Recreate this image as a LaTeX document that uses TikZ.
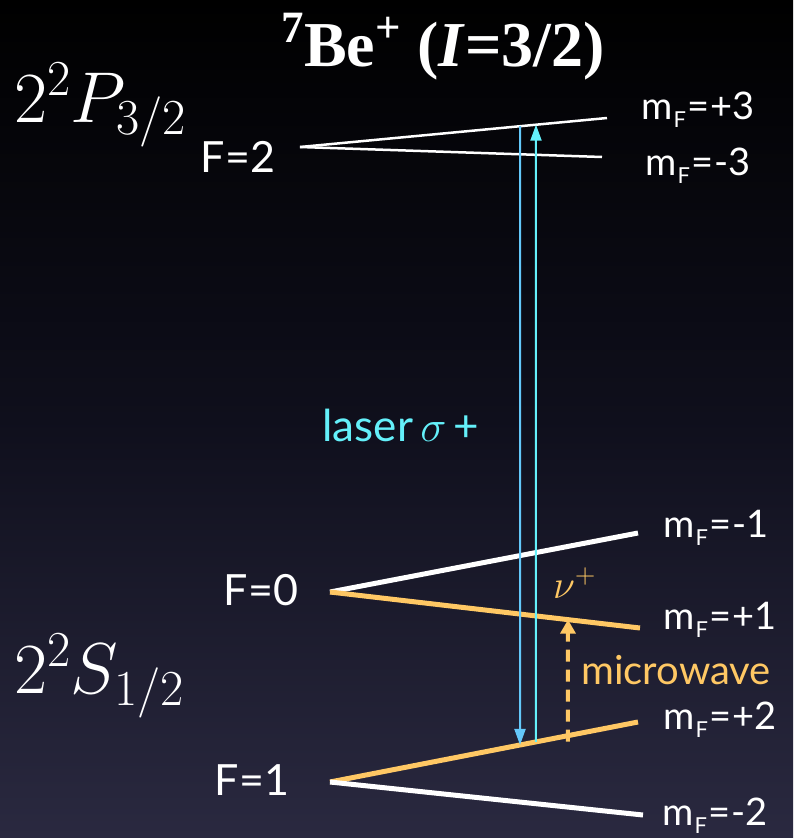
\RequirePackage{fix-cm}
\documentclass[tikz,border=0pt]{standalone}
\usepackage{fontspec}
\setmainfont{Lato}
\newfontfamily\titlefont{Liberation Serif}
\usetikzlibrary{arrows.meta,calc}
\definecolor{orng}{RGB}{255,200,100}
\definecolor{skyb}{RGB}{100,200,250}
\definecolor{cyn}{RGB}{100,240,250}
\definecolor{bgbot}{RGB}{42,41,64}
\definecolor{bgmid}{RGB}{15,15,28}
\newcommand{\mF}[1]{m\kern0.5pt\raisebox{-0.22em}{\fontsize{22}{22}\selectfont F}\kern1pt=\kern1pt#1}
\begin{document}
\begin{tikzpicture}[x=1pt,y=-1pt,
  lbl/.style={text=white,font=\fontsize{38}{40}\selectfont,inner sep=0pt},
  flbl/.style={text=white,font=\fontsize{43}{45}\selectfont,inner sep=0pt},
  statelbl/.style={text=white,font=\fontsize{72}{74}\selectfont,inner sep=0pt},
  thinlev/.style={white,line width=2.5pt},
  thicklev/.style={white,line width=5pt},
  orlev/.style={orng,line width=5pt},
  laserdown/.style={skyb,line width=2pt,-{Triangle[width=11pt,length=16pt]}},
  laserup/.style={cyn,line width=2pt,-{Triangle[width=11pt,length=16pt]}},
  mw/.style={orng,line width=4pt,dash pattern=on 12pt off 8pt,-{Triangle[width=15pt,length=14pt]}}
]
\shade[top color=black,bottom color=bgbot,middle color=bgmid] (0,0) rectangle (793,838);
\useasboundingbox (0,0) rectangle (793,838);

% title
\node[text=white,inner sep=0pt,anchor=base,font=\titlefont\bfseries\fontsize{64}{66}\selectfont] (title) at (443,66)
  {\textsuperscript{7}Be\textsuperscript{+} (\textit{I}=3/2)};

% state labels
\node[statelbl,anchor=base west] (P32) at (14,122) {$2^2P_{3/2}$};
\node[statelbl,anchor=base west] (S12) at (14,693) {$2^2S_{1/2}$};

% F labels
\node[flbl] (F2) at (238,157) {F=2};
\node[flbl] (F0) at (261,590) {F=0};
\node[flbl] (F1) at (252,780) {F=1};

% level coordinates
\coordinate (p0) at (300,147);
\coordinate (pp3) at (607,118);
\coordinate (pm3) at (602,157);
\coordinate (s0) at (330,592);
\coordinate (sm1) at (638,533);
\coordinate (sp1) at (640,628);
\coordinate (s1) at (330,782);
\coordinate (sp2) at (638,722);
\coordinate (sm2) at (643,815);

% m_F labels
\node[lbl] (mfp3) at (698,110) {\mF{+3}};
\node[lbl] (mfm3) at (698,166) {\mF{-3}};
\node[lbl] (mfm1) at (716,528) {\mF{-1}};
\node[lbl] (mfp1) at (720,620) {\mF{+1}};
\node[lbl] (mfp2) at (720,720) {\mF{+2}};
\node[lbl] (mfm2) at (715,816) {\mF{-2}};

% levels
\draw[thinlev] (p0) -- (pp3);
\draw[thinlev] (p0) -- (pm3);
\draw[thicklev] (s0) -- (sm1);
\draw[orlev] (s0) -- (sp1);
\draw[orlev] (s1) -- (sp2);
\draw[thicklev] (s1) -- (sm2);

% laser arrows
\coordinate (dTop) at ($(p0)!0.7166!(pp3)$);
\coordinate (dBot) at ($(s1)!0.6169!(sp2)$);
\coordinate (uTop) at ($(p0)!0.7687!(pp3)$);
\coordinate (uBot) at ($(s1)!0.6688!(sp2)$);
\draw[laserdown] (dTop) -- (dBot);
\draw[laserup] (uBot) -- (uTop);

% microwave arrow
\coordinate (mBot) at ($(s1)!0.7727!(sp2)$);
\coordinate (mTop) at ($(s0)!0.7677!(sp1)$);
\draw[mw] ([yshift=-6pt]mBot) -- (mTop);

% annotations
\node[text=cyn,font=\fontsize{44}{46}\selectfont,inner sep=0pt] (laser) at (401,425) {laser\,$\sigma$\,+};
\node[text=orng,font=\fontsize{40}{42}\selectfont,inner sep=0pt,anchor=base west] (nu) at (553,598) {$\nu^+$};
\node[text=orng,font=\fontsize{40}{42}\selectfont,inner sep=0pt] (mwl) at (676,670) {microwave};
\end{tikzpicture}
\end{document}
